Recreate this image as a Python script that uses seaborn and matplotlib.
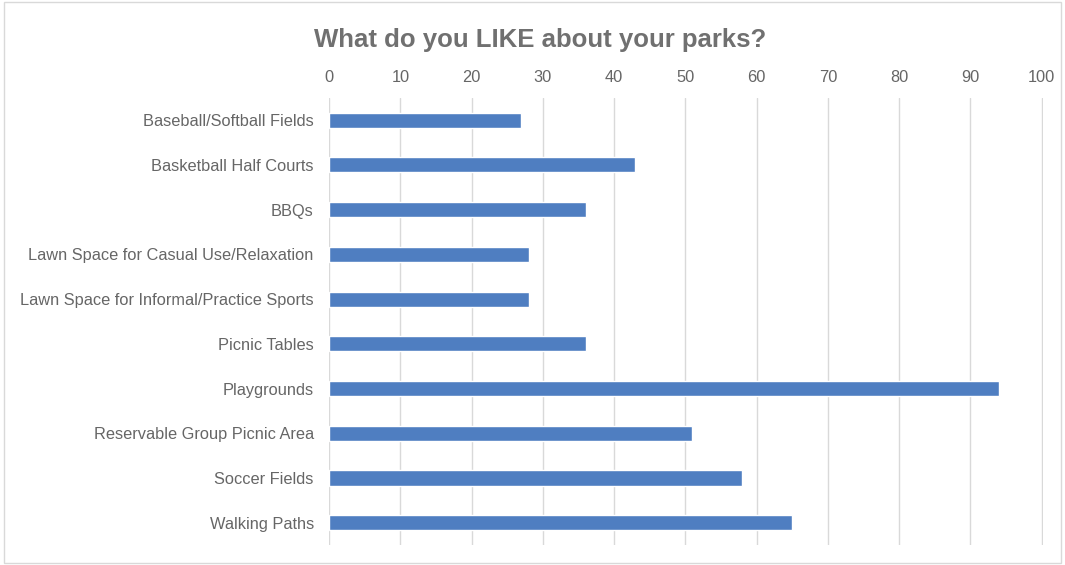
import seaborn as sns
import matplotlib.pyplot as plt
import pandas as pd
from matplotlib.patches import Rectangle

categories = ['Baseball/Softball Fields', 'Basketball Half Courts', 'BBQs',
              'Lawn Space for Casual Use/Relaxation', 'Lawn Space for Informal/Practice Sports',
              'Picnic Tables', 'Playgrounds', 'Reservable Group Picnic Area',
              'Soccer Fields', 'Walking Paths']
counts = [27, 43, 36, 28, 28, 36, 94, 51, 58, 65]
xticks = [0, 10, 20, 30, 40, 50, 60, 70, 80, 90, 100]

df = pd.DataFrame({'item': categories, 'count': counts})

sns.set_style("white")
plt.rcParams['font.family'] = ['Liberation Sans', 'DejaVu Sans']

grey = '#666666'
fig = plt.figure(figsize=(10.65, 5.65), dpi=100)
ax = fig.add_axes([0.309, 0.035, 0.670, 0.792])

sns.barplot(data=df, x='count', y='item', color='#4f7ec1', width=0.34,
            saturation=1, orient='h', ax=ax)

ax.set_xlim(0, 100.15)
ax.set_ylim(9.5, -0.5)
ax.set_xticks(xticks)
ax.xaxis.tick_top()
ax.tick_params(axis='both', length=0, labelsize=11.8, colors=grey)
ax.tick_params(axis='y', pad=11)
ax.tick_params(axis='x', pad=9)
ax.set_xlabel('')
ax.set_ylabel('')
ax.grid(axis='x', color='#d9d9d9', linewidth=1)
ax.set_axisbelow(True)
for s in ax.spines.values():
    s.set_visible(False)

fig.text(0.507, 0.93, 'What do you LIKE about your parks?', ha='center', va='center',
         fontsize=18.5, fontweight='bold', color='#707070')

fig.patches.append(Rectangle((0.004, 0.004), 0.992, 0.992, transform=fig.transFigure,
                             fill=False, edgecolor='#d9d9d9', linewidth=1))

plt.savefig('out.png', dpi=100)
